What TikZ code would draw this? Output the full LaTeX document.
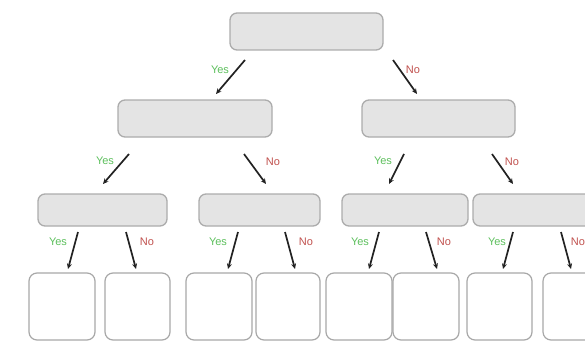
\documentclass[tikz,border=0pt]{standalone}
\usepackage{fontspec}
\setmainfont{Liberation Sans}
\usetikzlibrary{arrows.meta}
\definecolor{boxfill}{HTML}{E4E4E4}
\definecolor{boxline}{HTML}{ACACAC}
\definecolor{leafline}{HTML}{A8A8A8}
\definecolor{yesgreen}{HTML}{5CBF5C}
\definecolor{nored}{HTML}{C0504D}
\definecolor{arrowcol}{HTML}{222222}
\tikzset{
  gbox/.style={draw=boxline, fill=boxfill, line width=1.3pt, rounded corners=7pt, inner sep=0pt},
  leaf/.style={draw=leafline, fill=white, line width=1.2pt, rounded corners=8pt, inner sep=0pt, minimum height=67pt},
  arr/.style={draw=arrowcol, line width=1.7pt, -{Stealth[length=5.5pt,width=5pt]}},
  yes/.style={text=yesgreen, font=\fontsize{11}{12}\selectfont, inner sep=0pt},
  no/.style={text=nored, font=\fontsize{11}{12}\selectfont, inner sep=0pt}
}
\begin{document}
\begin{tikzpicture}[x=1pt,y=-1pt]
\useasboundingbox (0,0) rectangle (585,342);
\clip (0,0) rectangle (585,342);
% level 1
\node[gbox, minimum width=153pt, minimum height=37pt] (root) at (306.5,31.5) {};
% level 2
\node[gbox, minimum width=154pt, minimum height=37pt] (l2a) at (195,118.5) {};
\node[gbox, minimum width=153pt, minimum height=37pt] (l2b) at (438.5,118.5) {};
% level 3
\node[gbox, minimum width=129pt, minimum height=32pt] (l3a) at (102.5,210) {};
\node[gbox, minimum width=121pt, minimum height=32pt] (l3b) at (259.5,210) {};
\node[gbox, minimum width=126pt, minimum height=32pt] (l3c) at (405,210) {};
\node[gbox, minimum width=127pt, minimum height=32pt] (l3d) at (536.5,210) {};
% leaves
\node[leaf, minimum width=66pt] (f1) at (62,306.5) {};
\node[leaf, minimum width=65pt] (f2) at (137.5,306.5) {};
\node[leaf, minimum width=66pt] (f3) at (219,306.5) {};
\node[leaf, minimum width=64pt] (f4) at (288,306.5) {};
\node[leaf, minimum width=66pt] (f5) at (359,306.5) {};
\node[leaf, minimum width=66pt] (f6) at (426,306.5) {};
\node[leaf, minimum width=65pt] (f7) at (499.5,306.5) {};
\node[leaf, minimum width=66pt] (f8) at (576,306.5) {};
% arrow end coordinates
\coordinate (y1s) at (245,60);  \coordinate (y1e) at (216,94);
\coordinate (n1s) at (393,60);  \coordinate (n1e) at (417,94);
\coordinate (y2s) at (129,154); \coordinate (y2e) at (103,184);
\coordinate (n2s) at (244,154); \coordinate (n2e) at (266,184);
\coordinate (y3s) at (404,154); \coordinate (y3e) at (389,184);
\coordinate (n3s) at (492,154); \coordinate (n3e) at (513,184);
\coordinate (y4s) at (78,232);  \coordinate (y4e) at (68,269);
\coordinate (n4s) at (126,232); \coordinate (n4e) at (136,269);
\coordinate (y5s) at (238,232); \coordinate (y5e) at (228,269);
\coordinate (n5s) at (285,232); \coordinate (n5e) at (295,269);
\coordinate (y6s) at (379,232); \coordinate (y6e) at (369,269);
\coordinate (n6s) at (426,232); \coordinate (n6e) at (437,269);
\coordinate (y7s) at (513,232); \coordinate (y7e) at (503,269);
\coordinate (n7s) at (561,232); \coordinate (n7e) at (571,269);
\foreach \i in {1,...,7} {
  \draw[arr] (y\i s) -- (y\i e);
  \draw[arr] (n\i s) -- (n\i e);
}
% labels
\node[yes] (ly1) at (220,70) {Yes};
\node[no]  (ln1) at (413,70) {No};
\node[yes] (ly2) at (105,161) {Yes};
\node[no]  (ln2) at (273,162) {No};
\node[yes] (ly3) at (383,161) {Yes};
\node[no]  (ln3) at (512,162) {No};
\node[yes] (ly4) at (58,242) {Yes};
\node[no]  (ln4) at (147,242) {No};
\node[yes] (ly5) at (218,242) {Yes};
\node[no]  (ln5) at (306,242) {No};
\node[yes] (ly6) at (360,242) {Yes};
\node[no]  (ln6) at (444,242) {No};
\node[yes] (ly7) at (497,242) {Yes};
\node[no]  (ln7) at (578,242) {No};
\end{tikzpicture}
\end{document}
